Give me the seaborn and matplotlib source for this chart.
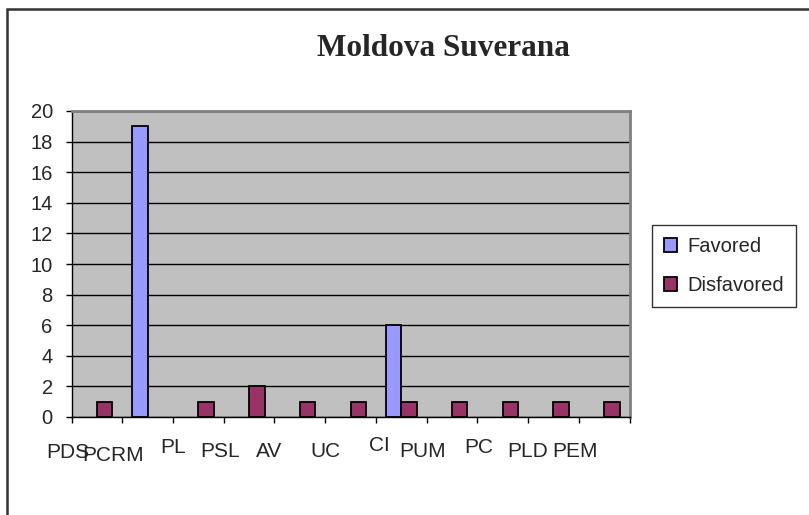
import matplotlib
matplotlib.use("Agg")
import matplotlib.pyplot as plt
import matplotlib.transforms as mtransforms
from matplotlib.patches import Rectangle, Patch
import seaborn as sns
import pandas as pd

# data
parties = ["PDS", "PCRM", "PL", "PSL", "AV", "UC", "CI", "PUM", "PC", "PLD", "PEM"]
favored = [0, 19, 0, 0, 0, 0, 6, 0, 0, 0, 0]
disfavored = [1, 0, 1, 2, 1, 1, 1, 1, 1, 1, 1]
series = ["Favored", "Disfavored"]
colors = ["#9999FF", "#993366"]

# staggered label offsets (pixels) as laid out in the original
label_dx = [-3.5, -8.7, 0.6, -3.7, -4.9, 0, 4, -4.5, 1.7, -0.5, -4.2]
label_dy = [-35, -38.5, -30.5, -34.5, -34.5, -34.5, -28.5, -34.5, -30.5, -34.5, -34.5]

df = pd.DataFrame({
    "party": parties * 2,
    "count": favored + disfavored,
    "series": [series[0]] * len(parties) + [series[1]] * len(parties),
})

sns.set_style("white")
plt.rcParams["font.family"] = ["Liberation Sans", "DejaVu Sans"]

W, H = 809, 515
fig = plt.figure(figsize=(W / 100, H / 100), dpi=100)
ax = fig.add_axes([71.5 / W, 1 - 417 / H, 558 / W, 306 / H])

sns.barplot(data=df, x="party", y="count", hue="series", order=parties,
            hue_order=series, palette=colors, width=0.61, gap=0,
            edgecolor="black", linewidth=1.3, saturation=1, ax=ax, legend=False)

# empty bars get no outline, like the original
for bar in ax.patches:
    if bar.get_height() == 0:
        bar.set_visible(False)

ax.set_facecolor("#C0C0C0")
ax.set_ylim(0, 20)
ax.set_xlim(-0.5, len(parties) - 0.5)
ax.set_yticks(range(0, 21, 2))
ax.yaxis.grid(True, color="black", linewidth=1)
ax.set_axisbelow(True)
ax.set_xlabel("")
ax.set_ylabel("")

ax.set_xticks([i - 0.5 for i in range(len(parties) + 1)])
ax.set_xticklabels([])
ax.tick_params(axis="x", direction="out", length=4, width=1, color="black", bottom=True)
ax.tick_params(axis="y", direction="out", length=4.5, width=1, color="black", left=True,
               labelsize=14.5, pad=9)

for side in ["top", "right"]:
    ax.spines[side].set_color("#808080")
    ax.spines[side].set_linewidth(2)
for side in ["left", "bottom"]:
    ax.spines[side].set_color("black")
    ax.spines[side].set_linewidth(1)

for i, name in enumerate(parties):
    off = mtransforms.ScaledTranslation(label_dx[i] / 100, label_dy[i] / 100, fig.dpi_scale_trans)
    ax.text(i - 0.5, 0, name, transform=ax.get_xaxis_transform() + off,
            ha="center", va="center", fontsize=15, clip_on=False)

handles = [Patch(facecolor=c, edgecolor="black", linewidth=1.3) for c in colors]
leg = fig.legend(handles, series, loc="upper left",
                 bbox_to_anchor=(652 / W, 1 - 225 / H), fontsize=14.5,
                 frameon=True, fancybox=False, edgecolor="black",
                 handlelength=0.65, handleheight=0.65, handletextpad=0.5,
                 labelspacing=1.0, borderpad=0.6, borderaxespad=0)
leg.get_frame().set_linewidth(1)

fig.text(443 / W, 1 - 48 / H, "Moldova Suverana", ha="center", va="center",
         fontsize=22.5, fontweight="bold", family=["Liberation Serif", "DejaVu Serif"])

# outer chart-area border
fig.patches.append(Rectangle((6.5 / W, -0.2), 1.2, 1.2 - 8.5 / H,
                             transform=fig.transFigure, fill=False,
                             edgecolor="#333333", linewidth=1.8))

fig.savefig("out.png", dpi=100)
